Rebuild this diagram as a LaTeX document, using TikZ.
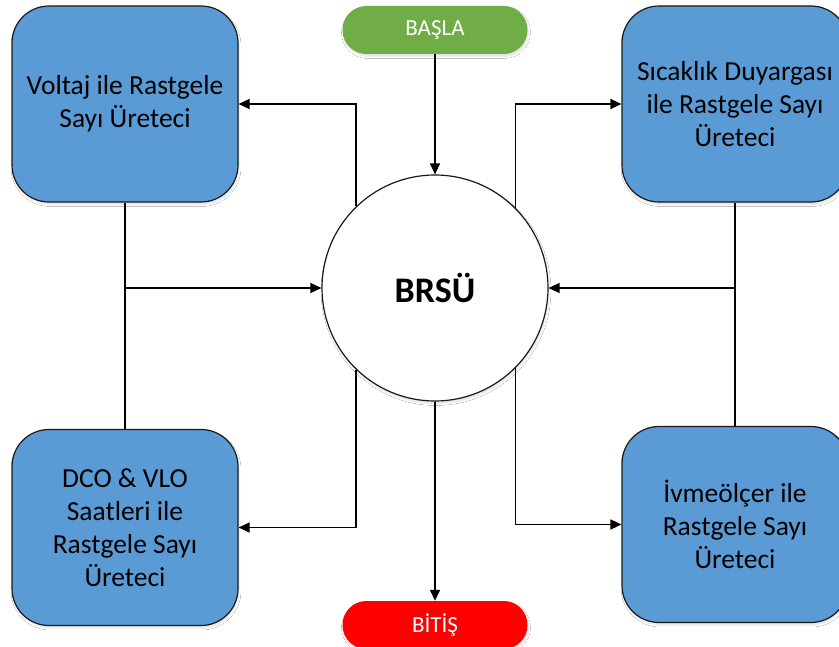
\documentclass[tikz,border=0pt]{standalone}
\usepackage{fontspec}
\setmainfont{Carlito}
\usetikzlibrary{arrows.meta,shadows.blur}

\definecolor{boxblue}{HTML}{5B9BD5}
\definecolor{startgreen}{HTML}{70AD47}
\definecolor{endred}{HTML}{FF0000}
\definecolor{edge}{HTML}{1A1A1A}

\tikzset{
  soft/.style={blur shadow={shadow xshift=1pt,shadow yshift=-2.5pt,shadow blur steps=6,shadow opacity=12,shadow scale=1}},
  genbox/.style={draw=edge,line width=1.2pt,fill=boxblue,rounded corners=37pt,
    minimum width=226pt,minimum height=196pt,align=center,inner sep=0pt,
    font=\fontsize{27.5}{33}\selectfont,soft},
  terminal/.style={fill=#1,text=white,rounded corners=23.9pt,
    minimum width=185pt,minimum height=48pt,inner sep=0pt,
    font=\fontsize{23}{27}\selectfont,soft},
  hub/.style={circle,draw=edge,line width=1.2pt,fill=white,minimum size=226pt,
    inner sep=0pt,font=\fontsize{36}{40}\selectfont\bfseries,soft},
  link/.style={line width=1.5pt,draw=black},
  flow/.style={link,-{Triangle[length=11pt,width=10pt]}}
}

\begin{document}
\begin{tikzpicture}[x=1pt,y=-1pt]
  \useasboundingbox (0,0) rectangle (839,647);
  \fill[white] (0,0) rectangle (839,647);
  \clip (0,0) rectangle (839,647);

  % central unit and terminals
  \node[hub] (brsu) at (435,288) {BRSÜ};
  \node[terminal=startgreen] (basla) at (435,30) {BAŞLA};
  \node[terminal=endred] (bitis) at (435,625) {BİTİŞ};

  % generator blocks
  \node[genbox] (tl) at (125,104) {Voltaj ile Rastgele\\Sayı Üreteci};
  \node[genbox] (bl) at (125,527.5) {DCO \& VLO\\Saatleri ile\\Rastgele Sayı\\Üreteci};
  \node[genbox] (tr) at (735,104) {Sıcaklık Duyargası\\ile Rastgele Sayı\\Üreteci};
  \node[genbox] (br) at (735,524.5) {İvmeölçer ile\\Rastgele Sayı\\Üreteci};

  % junctions on the side buses
  \coordinate (jl) at (125,288);
  \coordinate (jr) at (735,288);

  % start / end flow
  \draw[flow] (basla.south) -- (brsu.north);
  \draw[flow] (brsu.south) -- (bitis.north);

  % side buses feeding the unit
  \draw[link] (tl.south) -- (bl.north);
  \draw[link] (tr.south) -- (br.north);
  \draw[flow] (jl) -- (brsu.west);
  \draw[flow] (jr) -- (brsu.east);

  % unit driving the generators
  \draw[flow] (brsu.134.4) |- (tl.east);
  \draw[flow] (brsu.-134.4) |- (bl.east);
  \draw[flow] (brsu.45.1) |- (tr.west);
  \draw[flow] (brsu.-45.1) |- (br.west);
\end{tikzpicture}
\end{document}
